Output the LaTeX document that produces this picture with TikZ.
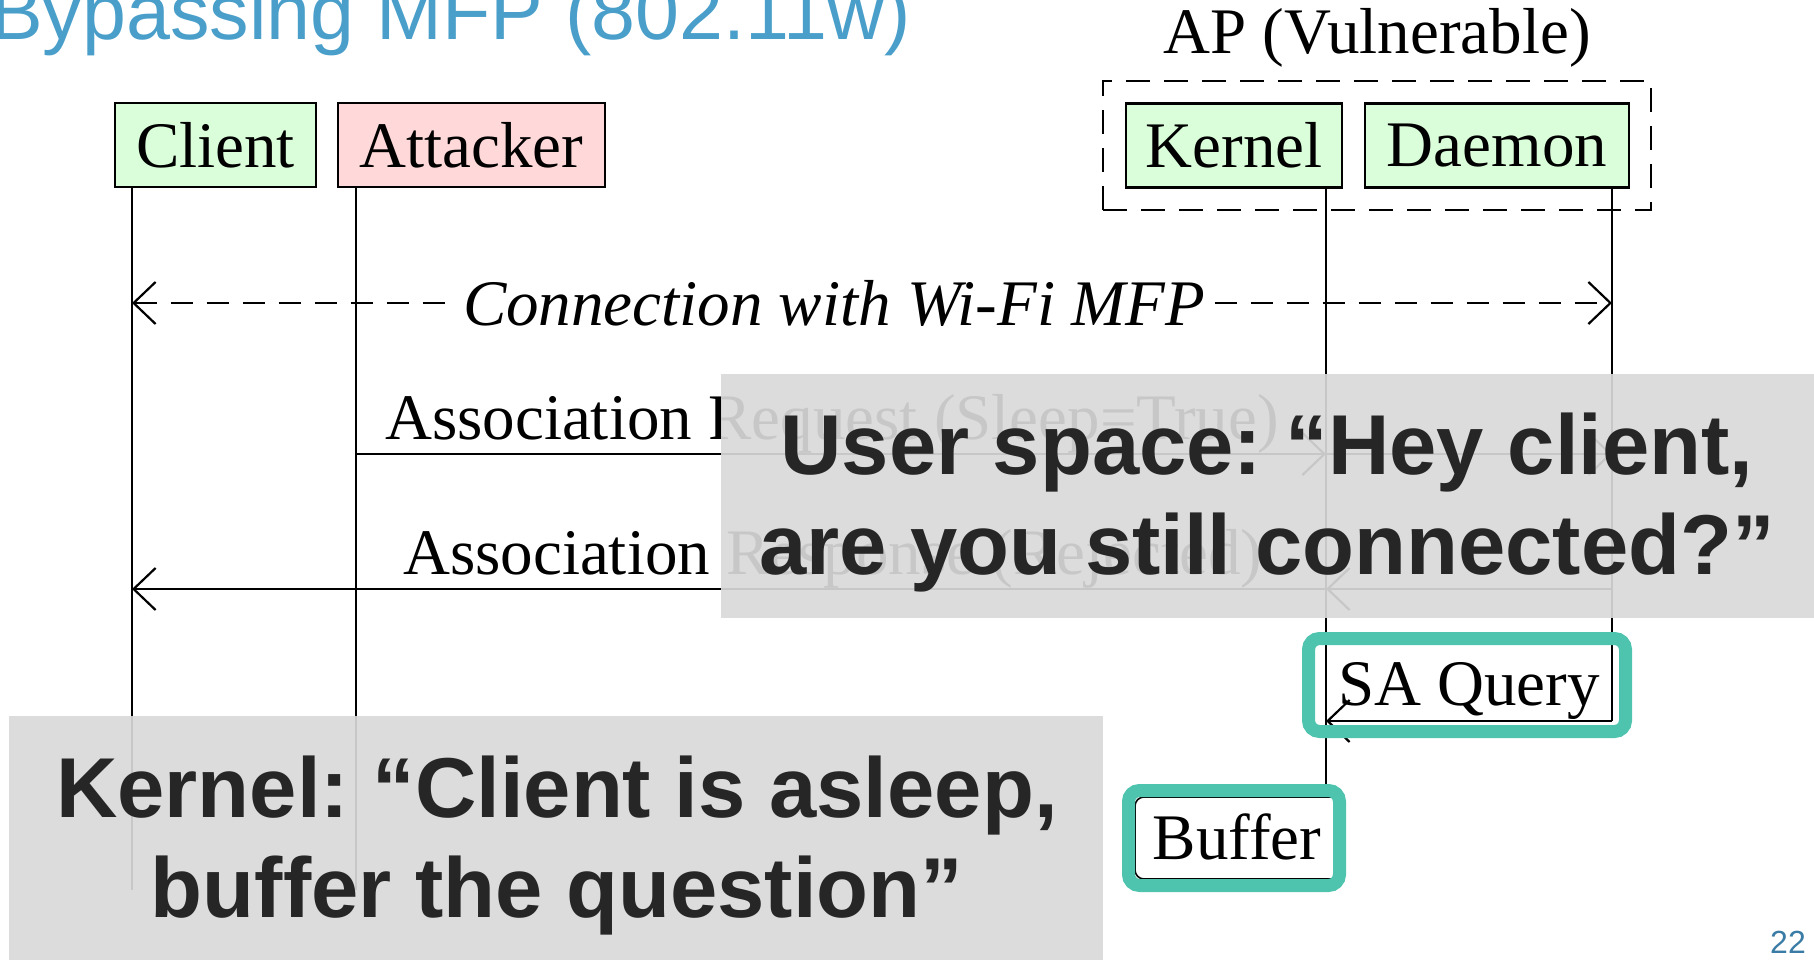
\documentclass[tikz,border=0pt]{standalone}
\usepackage{fontspec}
\setmainfont{Liberation Serif}
\newfontfamily\slidesans{Liberation Sans}
\usetikzlibrary{arrows.meta}
\frenchspacing

\definecolor{titleblue}{RGB}{74,159,202}
\definecolor{pageblue}{RGB}{58,124,165}
\definecolor{hilite}{RGB}{78,196,175}
\definecolor{veil}{RGB}{217,217,217}
\definecolor{inkdark}{RGB}{38,38,38}
\definecolor{boxgreen}{RGB}{218,253,218}
\definecolor{boxpink}{RGB}{255,217,217}

\newcommand{\diagfont}{\fontsize{65}{78}\selectfont}
\newcommand{\calloutfont}{\slidesans\bfseries\fontsize{85}{100}\selectfont}

\begin{document}
\begin{tikzpicture}[x=1pt,y=-1pt,
  actor/.style={draw=black, line width=2.6pt, minimum height=84pt,
    inner sep=0pt, font=\diagfont},
  lifeline/.style={line width=2.2pt},
  barb/.tip={Straight Barb[length=22pt,width=42pt,line width=2.2pt]},
  msg/.style={line width=2.2pt, -barb},
  msglabel/.style={font=\diagfont, inner sep=0pt},
  apgroup/.style={draw=black, line width=2.4pt, dash pattern=on 24pt off 14pt,
    minimum width=548pt, minimum height=129pt, inner sep=0pt},
  veilbox/.style={fill=veil, fill opacity=0.92, inner sep=0pt},
  callout/.style={font=\calloutfont, text=inkdark, align=center, inner sep=0pt},
  hilitebox/.style={draw=hilite, line width=13pt, rounded corners=11pt, inner sep=0pt}
]
\useasboundingbox (0,0) rectangle (1814,959);

% access point group and participants
\node[apgroup] (ap) at (1377,145.5) {};
\node[font=\diagfont, anchor=base, inner sep=0pt] (aplabel) at (1377,53) {AP (Vulnerable)};

\node[actor, fill=boxgreen, minimum width=201pt] (client)   at (215.5,145) {Client};
\node[actor, fill=boxpink,  minimum width=267pt] (attacker) at (471.5,145) {Attacker};
\node[actor, fill=boxgreen, minimum width=216pt] (kernel)   at (1234,145.5) {Kernel};
\node[actor, fill=boxgreen, minimum width=264pt] (daemon)   at (1497,145.5) {Daemon};

% lifeline end points
\coordinate (cT) at (132,187);  \coordinate (cB) at (132,890);
\coordinate (aT) at (356,187);  \coordinate (aB) at (356,890);
\coordinate (kT) at (1326,187); \coordinate (kB) at (1326,797);
\coordinate (dT) at (1612,187); \coordinate (dB) at (1612,721);

\draw[lifeline] (cT) -- (cB);
\draw[lifeline] (aT) -- (aB);
\draw[lifeline] (kT) -- (kB);
\draw[lifeline] (dT) -- (dB);

% message points on the lifelines
\coordinate (c1) at (132,303);  \coordinate (d1) at (1612,303);
\coordinate (a2) at (356,454);  \coordinate (k2) at (1326,454); \coordinate (d2) at (1612,454);
\coordinate (c3) at (132,589);  \coordinate (k3) at (1326,589); \coordinate (d3) at (1612,589);
\coordinate (k4) at (1326,721);

% established connection
\draw[line width=2.2pt, dash pattern=on 22pt off 14pt, barb-barb] (c1) -- (d1);
\node[font=\diagfont\itshape, fill=white, inner sep=5pt] (conn) at (834,303)
  {Connection with Wi-Fi MFP};

% association exchange
\draw[msg] (a2) -- (k2);
\draw[msg] (k2) -- (d2);
\node[msglabel, anchor=base west] (req) at (385,439) {Association Request (Sleep=True)};

\draw[msg] (d3) -- (k3);
\draw[msg] (k3) -- (c3);
\node[msglabel, anchor=base west] (resp) at (403,574) {Association Response (Rejected)};

% SA query from the daemon
\draw[msg] (dB) -- (k4);
\node[msglabel, anchor=base] (saq) at (1469,705) {SA Query};

% kernel buffers the frame
\node[draw=black, line width=1.6pt, fill=white, rounded corners=9pt,
  minimum width=206pt, minimum height=82pt, inner sep=0pt, font=\diagfont]
  (buffer) at (1238,838) {};
\node[font=\diagfont, inner sep=0pt] (buftext) at (1237,837) {Buffer};

% explanatory call-outs
\node[veilbox, minimum width=1100pt, minimum height=244pt] (uveil) at (1271,496) {};
\node[callout] (utext) at ([yshift=-7pt]uveil.center -| 1267,0)
  {User space: \textquotedblleft Hey client,\\are you still connected?\textquotedblright};

\node[veilbox, minimum width=1094pt, minimum height=250pt] (kveil) at (556,841) {};
\node[callout] (ktext) at (557,845.5)
  {Kernel: \textquotedblleft Client is asleep,\\buffer the question\textquotedblright};

% highlights
\node[hilitebox, minimum width=317pt, minimum height=93pt] (hsaq) at (1467,685) {};
\node[hilitebox, minimum width=211pt, minimum height=95pt] (hbuf) at (1234,838) {};

% slide title and page number
\node[font=\slidesans\fontsize{79}{90}\selectfont, text=titleblue,
  anchor=base west, inner sep=0pt] (title) at (-10,39) {Bypassing MFP (802.11w)};
\node[font=\slidesans\fontsize{32}{38}\selectfont, text=pageblue,
  anchor=base east, inner sep=0pt] (pagenum) at (1806,953) {22};
\end{tikzpicture}
\end{document}
